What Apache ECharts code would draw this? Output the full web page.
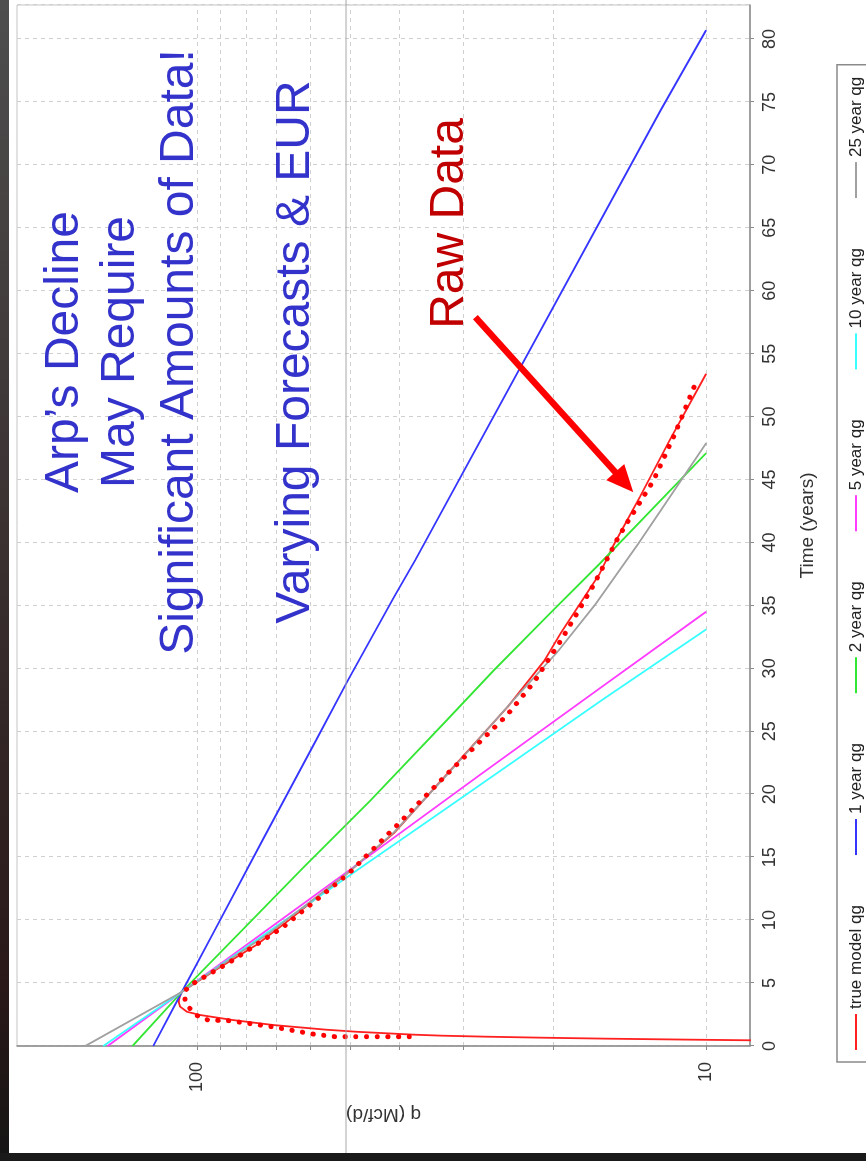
<!DOCTYPE html>
<html>
<head>
<meta charset="utf-8">
<script src="https://cdn.jsdelivr.net/npm/echarts@6/dist/echarts.min.js"></script>
<style>
  html, body { margin: 0; padding: 0; width: 866px; height: 1161px; overflow: hidden; background: #1c1c1c; }
  /* the chart is laid out landscape and turned a quarter turn counter-clockwise */
  #chart { position: absolute; left: 0; top: 0; width: 1161px; height: 866px;
           transform-origin: 0 0; transform: translateY(1161px) rotate(-90deg); }
</style>
</head>
<body>
<div id="chart"></div>
<script>
// ---- data: [time (years), q (Mcf/d)] ----
const seriesNames = ['true model qg', '1 year qg', '2 year qg', '5 year qg', '10 year qg', '25 year qg'];
const seriesColors = ['#ff2020', '#3535ff', '#33e633', '#ff3cff', '#38ffff', '#a0a0a0'];

const trueModel = [
  [0.44, 7.6], [0.50, 10.5], [0.58, 15.5], [0.66, 21], [0.74, 27], [0.82, 33], [0.90, 37.5],
  [1.13, 48.6], [1.30, 56], [1.67, 71], [2.06, 85], [2.46, 98.6], [2.72, 104.8], [3.12, 108],
  [3.52, 108.8], [3.92, 108.2], [4.30, 107.2], [6.0, 92.4], [8.0, 76.7], [10.0, 66],
  [13.7, 50.8], [16.9, 41.1], [21.6, 32.3], [26.9, 24.6], [30.6, 20.8], [32.8, 19.3],
  [37.5, 16.2], [39.8, 15.2], [43.6, 13.5], [48.1, 11.8], [53.4, 10.0]
];
const oneYear = [[0, 122], [4.3, 107.2], [9.2, 92.4], [16.4, 74.3], [24.3, 58.4], [29.1, 50.5],
  [35.7, 41.0], [38.6, 37.3], [74.3, 12.3], [80.7, 10.0]];
const twoYear = [[0, 134], [4.3, 107.2], [14.2, 61.8], [19.5, 45.7], [25.9, 32.3], [29.8, 26.2],
  [34.6, 20.0], [38.3, 16.2], [47.1, 10.0]];
const fiveYear = [[0, 150], [4.3, 107.2], [13.7, 51.3], [21.6, 27.7], [28.4, 16.2], [34.5, 10.0]];
const tenYear = [[0, 153], [4.3, 107.2], [13.7, 49.6], [20.1, 29.3], [27.5, 16.0], [33.1, 10.0]];
const twentyFiveYear = [[0, 166], [4.3, 107.2], [9.0, 72], [13.7, 50.8], [17.0, 41], [21.6, 32.2],
  [27.5, 23.9], [31.3, 19.6], [35.1, 16.5], [39.9, 13.6], [47.9, 10.0]];

// measured production, drawn as a round-dot trace
const rawData = [
  [0.74, 38.3], [0.74, 53.6], [0.95, 59.2], [1.53, 71.3], [2.01, 86.5], [2.06, 95.1], [2.28, 99.1],
  [2.86, 102.9], [3.52, 105.6], [4.37, 105.9], [4.98, 101.7], [6.69, 86.1], [9.47, 67.7],
  [13.7, 50.4], [17.8, 39.9], [21.6, 32.3], [26.3, 24.6], [28.9, 21.8], [32.5, 19.1], [36.7, 16.6],
  [40.6, 14.8], [44.9, 12.7], [48.7, 11.5], [52.6, 10.5]
];

// axis ticks
const qTickValues = [10, 20, 30, 40, 50, 60, 70, 80, 90, 100];
const qLabelValues = [10, 100];

// annotation text and arrow anchors (time, q)
const noteLines = ['Arp\u2019s Decline', 'May Require', 'Significant Amounts of Data!', 'Varying Forecasts & EUR'];
const rawLabel = 'Raw Data';
const arrowTail = [57.9, 28.4];
const arrowTip = [44.0, 13.9];

const FONT = '"Liberation Sans", Arial, Helvetica, sans-serif';
const chart = echarts.init(document.getElementById('chart'), null, { renderer: 'canvas', width: 1161, height: 866 });

const curves = [trueModel, oneYear, twoYear, fiveYear, tenYear, twentyFiveYear];
const series = curves.map((d, i) => ({
  name: seriesNames[i], type: 'line', data: d, symbol: 'none', showSymbol: false,
  lineStyle: { color: seriesColors[i], width: 1.8 }, itemStyle: { color: seriesColors[i] },
  z: 3 + i
}));
series.push({
  name: rawLabel, type: 'line', data: rawData, symbol: 'none', showSymbol: false,
  lineStyle: { color: '#ff0000', width: 5, type: [0.1, 10.6], cap: 'round' }, z: 20
});

const dashed = { color: '#cfcfcf', width: 1, type: [4, 4] };

chart.setOption({
  animation: false,
  backgroundColor: '#ffffff',
  grid: { left: 115, right: 5, top: 17, bottom: 116, show: true, borderColor: '#c4c4c4', borderWidth: 1 },
  xAxis: {
    type: 'value', min: 0, max: 82.7, interval: 5,
    name: 'Time (years)', nameLocation: 'middle', nameGap: 48,
    nameTextStyle: { fontSize: 19, color: '#333', fontFamily: FONT },
    axisLine: { show: true, lineStyle: { color: '#8a8a8a', width: 1.5 } },
    axisTick: { show: true, length: 4, lineStyle: { color: '#8a8a8a' } },
    axisLabel: { fontSize: 18, color: '#333', fontFamily: FONT, margin: 11, showMaxLabel: false },
    splitLine: { show: true, lineStyle: dashed }
  },
  yAxis: {
    type: 'log', logBase: 10, min: 8.2, max: 226,
    name: 'q (Mcf/d)', nameLocation: 'middle', nameGap: 59,
    nameTextStyle: { fontSize: 19, color: '#333', fontFamily: FONT },
    axisLine: { show: true, lineStyle: { color: '#8a8a8a', width: 1.5 } },
    axisTick: { show: true, length: 4, customValues: qTickValues, lineStyle: { color: '#8a8a8a' } },
    axisLabel: { fontSize: 18, color: '#333', fontFamily: FONT, margin: 16, customValues: qLabelValues,
                 formatter: v => String(Math.round(v)) },
    splitLine: { show: true, lineStyle: dashed }
  },
  legend: {
    data: seriesNames, orient: 'horizontal', left: 99, top: 837,
    icon: 'rect', itemWidth: 36, itemHeight: 2, itemGap: 50, padding: [10, 12, 10, 12],
    borderColor: '#8a8a8a', borderWidth: 1.5, backgroundColor: '#ffffff',
    textStyle: { fontSize: 17, color: '#222', fontFamily: FONT, lineHeight: 18 }
  },
  series: series
});

// annotations
const graphics = [
  { type: 'rect', shape: { x: 0, y: 0, width: 1161, height: 9 }, z: 200,
    style: { fill: new echarts.graphic.LinearGradient(0, 0, 1, 0, [
      { offset: 0, color: '#151515' }, { offset: 0.15, color: '#2a1818' }, { offset: 1, color: '#4e4e4e' }]) } },
  { type: 'rect', shape: { x: 0, y: 0, width: 8, height: 866 }, z: 200, style: { fill: '#1a1a1a' } },
  { type: 'line', shape: { x1: 0, y1: 346, x2: 1161, y2: 346 }, z: 150,
    style: { stroke: '#a8a8a8', lineWidth: 1 } }
];
const noteBaselines = [81.7, 138, 196.7, 313];
noteLines.forEach((t, i) => {
  graphics.push({ type: 'text', x: 809, y: noteBaselines[i] - 17, z: 100,
    style: { text: t, fill: '#3333cc', font: '48px ' + FONT,
             textAlign: 'center', textVerticalAlign: 'middle', align: 'center', verticalAlign: 'middle' } });
});
graphics.push({ type: 'text', x: 937.5, y: 467 - 17.5, z: 100,
  style: { text: rawLabel, fill: '#c00000', font: '48px ' + FONT,
           textAlign: 'center', textVerticalAlign: 'middle', align: 'center', verticalAlign: 'middle' } });

const p0 = chart.convertToPixel({ gridIndex: 0 }, arrowTail);
const p1 = chart.convertToPixel({ gridIndex: 0 }, arrowTip);
const dx = p1[0] - p0[0], dy = p1[1] - p0[1];
const len = Math.hypot(dx, dy), ux = dx / len, uy = dy / len, nx = -uy, ny = ux;
const headLen = 27, headHalf = 12;
const bx = p1[0] - ux * headLen, by = p1[1] - uy * headLen;
graphics.push({ type: 'line', z: 120, shape: { x1: p0[0], y1: p0[1], x2: bx + ux * 2, y2: by + uy * 2 },
  style: { stroke: '#ff0000', lineWidth: 6.5 } });
graphics.push({ type: 'polygon', z: 121,
  shape: { points: [[p1[0], p1[1]], [bx + nx * headHalf, by + ny * headHalf], [bx - nx * headHalf, by - ny * headHalf]] },
  style: { fill: '#ff0000' } });

chart.setOption({ graphic: graphics });
</script>
</body>
</html>
